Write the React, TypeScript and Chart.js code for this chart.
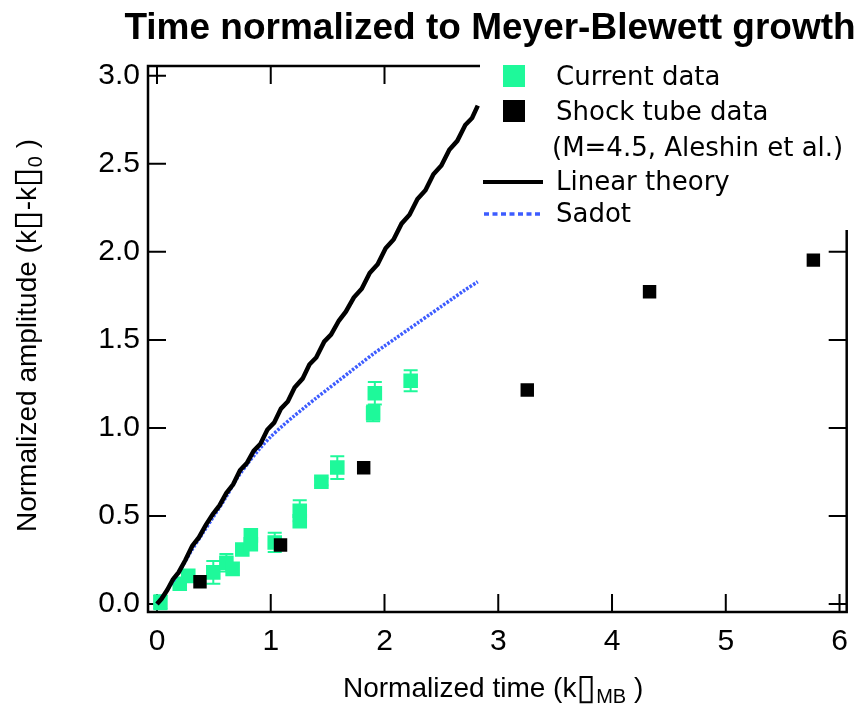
import { useEffect, useRef } from "react";
import { Chart, registerables } from "chart.js";

Chart.register(...registerables);

// Current data: normalized time, amplitude and error half-height
const currentX = [0.03, 0.2, 0.275, 0.495, 0.61, 0.665, 0.75, 0.825, 0.825, 1.035, 1.255, 1.255, 1.445, 1.585, 1.9, 1.915, 2.23];
const currentY = [0.01, 0.115, 0.16, 0.18, 0.235, 0.2, 0.31, 0.39, 0.34, 0.35, 0.53, 0.47, 0.695, 0.775, 1.083, 1.197, 1.268];
const currentErr = [0.04, 0, 0, 0.065, 0.05, 0, 0, 0, 0, 0.055, 0.06, 0, 0.02, 0.065, 0.045, 0.064, 0.059];

// Shock tube data (M=4.5, Aleshin et al.)
const shockX = [0.378, 1.086, 1.817, 3.255, 4.33, 5.77];
const shockY = [0.127, 0.335, 0.774, 1.215, 1.773, 1.953];

// Linear theory curve
const linearX = [0, 0.04, 0.09, 0.14, 0.19, 0.25, 0.31, 0.37, 0.43, 0.49, 0.55, 0.61, 0.67, 0.73, 0.79, 0.85, 0.91, 0.97, 1.03, 1.09, 1.15, 1.21, 1.28, 1.34, 1.4, 1.47, 1.53, 1.6, 1.66, 1.73, 1.8, 1.87, 1.94, 2.01, 2.08, 2.15, 2.22, 2.29, 2.36, 2.43, 2.5, 2.57, 2.64, 2.71, 2.77, 2.82];
const linearY = [0, 0.03, 0.08, 0.14, 0.18, 0.25, 0.33, 0.38, 0.45, 0.51, 0.56, 0.63, 0.68, 0.76, 0.8, 0.87, 0.91, 0.99, 1.03, 1.11, 1.15, 1.23, 1.28, 1.36, 1.4, 1.49, 1.53, 1.61, 1.66, 1.74, 1.79, 1.88, 1.93, 2.02, 2.07, 2.16, 2.21, 2.3, 2.35, 2.44, 2.49, 2.58, 2.63, 2.72, 2.76, 2.83];

// Sadot model curve
const sadotX = [0, 0.1, 0.2, 0.3, 0.4, 0.5, 0.6, 0.7, 0.8, 0.9, 1.0, 1.1, 1.2, 1.3, 1.4, 1.5, 1.6, 1.7, 1.8, 1.9, 2.0, 2.1, 2.2, 2.3, 2.4, 2.5, 2.6, 2.7, 2.82];
const sadotY = [0, 0.09, 0.19, 0.3, 0.4, 0.5, 0.6, 0.71, 0.8, 0.88, 0.95, 1.01, 1.065, 1.118, 1.17, 1.22, 1.27, 1.32, 1.37, 1.42, 1.465, 1.51, 1.555, 1.6, 1.645, 1.69, 1.735, 1.78, 1.83];

const xTicks = [0, 1, 2, 3, 4, 5, 6];
const yTicks = [0, 0.5, 1, 1.5, 2, 2.5, 3];

const GREEN = "#1ef99a";
const BLUE = "#3d5cff";
const SANS = "'Liberation Sans', Arial, Helvetica, sans-serif";
const LEGEND_FONT = "'DejaVu Sans', Verdana, sans-serif";
const BOX_FONT = "'DejaVu Sans', sans-serif";
const BOX = "\u25AF";

const toPoints = (xs: number[], ys: number[]) => xs.map((x, i) => ({ x, y: ys[i] }));

// Draws a run of [text, font, baseline offset] pieces left to right.
function drawRuns(ctx: CanvasRenderingContext2D, runs: [string, string, number][], x0: number, y0: number) {
  let x = x0;
  for (const [t, f, dy] of runs) {
    ctx.font = f;
    ctx.fillText(t, x, y0 + dy);
    x += ctx.measureText(t).width;
  }
}

const decorations = {
  id: "decorations",
  beforeDatasetsDraw(chart: any) {
    const { ctx, chartArea: a, scales } = chart;
    const x = scales.x;
    const y = scales.y;
    const T = 18;
    ctx.save();
    // inward ticks on all four sides
    ctx.strokeStyle = "#000";
    ctx.lineWidth = 2;
    ctx.beginPath();
    for (const v of xTicks) {
      const px = x.getPixelForValue(v);
      ctx.moveTo(px, a.bottom);
      ctx.lineTo(px, a.bottom - T);
      ctx.moveTo(px, a.top);
      ctx.lineTo(px, a.top + T);
    }
    for (const v of yTicks) {
      const py = y.getPixelForValue(v);
      ctx.moveTo(a.left, py);
      ctx.lineTo(a.left + T, py);
      ctx.moveTo(a.right, py);
      ctx.lineTo(a.right - T, py);
    }
    ctx.stroke();
    ctx.lineWidth = 2.5;
    ctx.strokeRect(a.left, a.top, a.right - a.left, a.bottom - a.top);

    // error bars for the current data
    ctx.strokeStyle = GREEN;
    ctx.lineWidth = 2;
    ctx.beginPath();
    currentX.forEach((cx, i) => {
      const e = currentErr[i];
      if (!e) return;
      const px = x.getPixelForValue(cx);
      const top = y.getPixelForValue(currentY[i] + e);
      const bot = y.getPixelForValue(currentY[i] - e);
      ctx.moveTo(px, top);
      ctx.lineTo(px, bot);
      ctx.moveTo(px - 7, top);
      ctx.lineTo(px + 7, top);
      ctx.moveTo(px - 7, bot);
      ctx.lineTo(px + 7, bot);
    });
    ctx.stroke();
    ctx.restore();
  },
  afterDraw(chart: any) {
    const { ctx } = chart;
    ctx.save();
    ctx.fillStyle = "#000";

    // title
    ctx.font = `bold 37px ${SANS}`;
    ctx.textAlign = "center";
    ctx.textBaseline = "alphabetic";
    ctx.fillText("Time normalized to Meyer-Blewett growth", 490, 39);

    // x axis title with subscript
    ctx.textAlign = "left";
    const main = `28px ${SANS}`;
    const sub = `20px ${SANS}`;
    const box = `36px ${BOX_FONT}`;
    drawRuns(ctx, [
      ["Normalized time (k", main, 0],
      [BOX, box, 2],
      ["MB", sub, 6],
      [" )", main, 0],
    ], 343, 697);

    // y axis title, rotated
    ctx.save();
    ctx.translate(36, 532);
    ctx.rotate(-Math.PI / 2);
    drawRuns(ctx, [
      ["Normalized amplitude (k", main, 0],
      [BOX, box, 2],
      ["-k", main, 0],
      [BOX, box, 2],
      ["0", sub, 6],
      [" )", main, 0],
    ], 0, 0);
    ctx.restore();

    // legend
    ctx.fillStyle = "#fff";
    ctx.fillRect(480, 56, 380, 174);
    ctx.fillStyle = GREEN;
    ctx.fillRect(503, 65, 22, 22);
    ctx.fillStyle = "#000";
    ctx.fillRect(503, 100, 22, 22);
    ctx.font = `26px ${LEGEND_FONT}`;
    ctx.fillText("Current data", 556, 85);
    ctx.fillText("Shock tube data", 556, 120);
    ctx.fillText("(M=4.5, Aleshin et al.)", 552, 156);
    ctx.fillText("Linear theory", 556, 190);
    ctx.fillText("Sadot", 556, 222);
    ctx.strokeStyle = "#000";
    ctx.lineWidth = 4;
    ctx.beginPath();
    ctx.moveTo(483, 182);
    ctx.lineTo(543, 182);
    ctx.stroke();
    ctx.strokeStyle = BLUE;
    ctx.lineWidth = 3.5;
    ctx.setLineDash([5, 3.5]);
    ctx.beginPath();
    ctx.moveTo(484, 214);
    ctx.lineTo(543, 214);
    ctx.stroke();
    ctx.restore();
  },
};

export default function App() {
  const canvasRef = useRef<HTMLCanvasElement | null>(null);

  useEffect(() => {
    const canvas = canvasRef.current;
    if (!canvas) return;
    const tickFont = { family: SANS, size: 30 };
    const chart = new Chart(canvas, {
      type: "scatter",
      data: {
        datasets: [
          {
            label: "Linear theory",
            type: "line",
            data: toPoints(linearX, linearY),
            borderColor: "#000",
            borderWidth: 4.5,
            pointRadius: 0,
            tension: 0,
            order: 0,
          } as any,
          {
            label: "Sadot",
            type: "line",
            data: toPoints(sadotX, sadotY),
            borderColor: BLUE,
            borderWidth: 3.5,
            borderDash: [2.5, 1.5],
            pointRadius: 0,
            tension: 0.3,
            order: 1,
          } as any,
          {
            label: "Shock tube data",
            data: toPoints(shockX, shockY),
            pointStyle: "rect",
            pointRadius: 9.5,
            backgroundColor: "#000",
            borderColor: "#000",
            borderWidth: 0,
            order: 2,
          },
          {
            label: "Current data",
            data: toPoints(currentX, currentY),
            pointStyle: "rect",
            pointRadius: 10.3,
            backgroundColor: GREEN,
            borderColor: GREEN,
            borderWidth: 0,
            order: 3,
          },
        ],
      },
      options: {
        responsive: false,
        animation: false,
        layout: { padding: { left: 8, right: 12, top: 66, bottom: 0 } },
        plugins: {
          legend: { display: false },
          title: { display: false },
          tooltip: { enabled: false },
        },
        scales: {
          x: {
            type: "linear",
            min: -0.079,
            max: 6.063,
            afterBuildTicks: (s: any) => {
              s.ticks = xTicks.map((v) => ({ value: v }));
            },
            afterFit: (s: any) => {
              s.height = 98;
            },
            grid: { display: false, drawTicks: false },
            border: { display: false },
            ticks: {
              font: tickFont,
              color: "#000",
              padding: 12,
              maxRotation: 0,
              autoSkip: false,
              callback: (v: any) => String(v),
            },
          },
          y: {
            type: "linear",
            min: -0.045,
            max: 3.055,
            afterBuildTicks: (s: any) => {
              s.ticks = yTicks.map((v) => ({ value: v }));
            },
            afterFit: (s: any) => {
              s.width = 140;
            },
            grid: { display: false, drawTicks: false },
            border: { display: false },
            ticks: {
              font: tickFont,
              color: "#000",
              padding: 8,
              autoSkip: false,
              callback: (v: any) => Number(v).toFixed(1),
            },
          },
        },
      },
      plugins: [decorations],
    });
    return () => chart.destroy();
  }, []);

  return (
    <div style={{ position: "absolute", left: 0, top: 0, width: 860, height: 710, background: "#fff" }}>
      <canvas ref={canvasRef} width={860} height={710} style={{ display: "block" }} />
    </div>
  );
}
